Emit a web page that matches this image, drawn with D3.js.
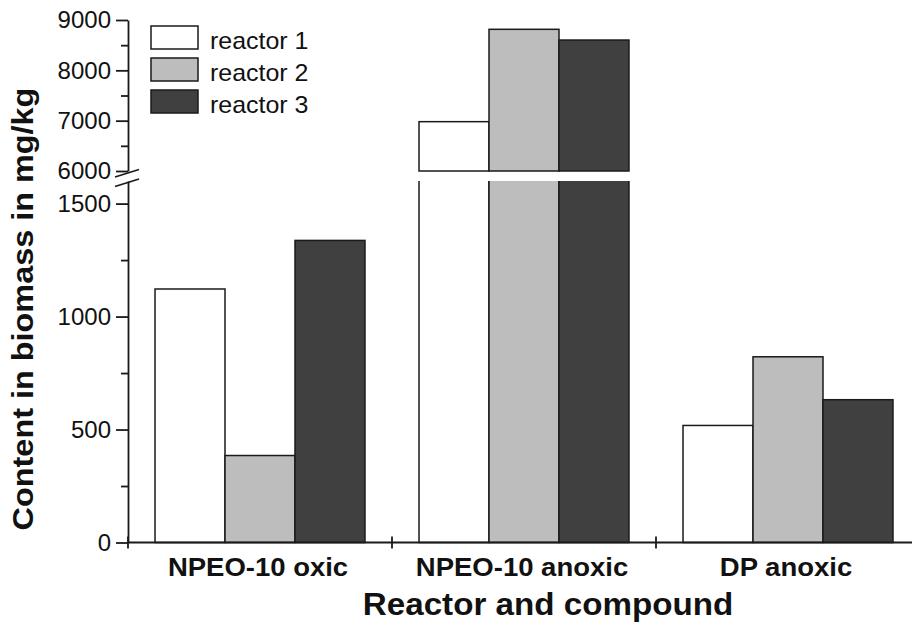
<!DOCTYPE html>
<html>
<head>
<meta charset="utf-8">
<script src="https://cdn.jsdelivr.net/npm/d3@7/dist/d3.min.js"></script>
<style>
  html, body { margin: 0; padding: 0; background: #fff; }
  svg { display: block; }
  text { font-family: "Liberation Sans", Arial, Helvetica, sans-serif; fill: #111; }
</style>
</head>
<body>
<svg id="chart" width="912" height="624"></svg>
<script>
// Compounds measured, and the three reactors
const categories = ["NPEO-10 oxic", "NPEO-10 anoxic", "DP anoxic"];
const reactors = ["reactor 1", "reactor 2", "reactor 3"];

// Content in biomass (mg/kg), one array per reactor, in category order
const reactor1 = [1122, 6980, 518];
const reactor2 = [385, 8815, 822];
const reactor3 = [1337, 8602, 632];

// Broken y axis: lower and upper segments
const lowerTicks = [0, 500, 1000, 1500];
const lowerMinor = [250, 750, 1250];
const upperTicks = [6000, 7000, 8000, 9000];
const upperMinor = [6500, 7500, 8500];
const lowerDomain = [0, 1600];
const upperDomain = [6000, 9000];

const fills = ["#ffffff", "#bdbdbd", "#404040"];
const ink = "#1a1a1a";

const svg = d3.select("#chart");

const x0 = d3.scaleBand().domain(categories).range([128, 920]).padding(0);
const x1 = d3.scaleBand().domain(reactors).range([0, x0.bandwidth()])
  .paddingInner(0).paddingOuter(0.386);
const yLow = d3.scaleLinear().domain(lowerDomain).range([542.5, 181]);
const yHigh = d3.scaleLinear().domain(upperDomain).range([171, 20]);
const colour = d3.scaleOrdinal().domain(reactors).range(fills);

const rows = [];
[reactor1, reactor2, reactor3].forEach((vals, s) => {
  vals.forEach((v, c) => rows.push({ cat: categories[c], reactor: reactors[s], value: v }));
});

// Bars
const bars = svg.append("g");
rows.forEach(d => {
  const x = x0(d.cat) + x1(d.reactor);
  const w = x1.bandwidth();
  if (d.value <= lowerDomain[1]) {
    bars.append("rect")
      .attr("x", x).attr("y", yLow(d.value))
      .attr("width", w).attr("height", yLow(0) - yLow(d.value))
      .attr("fill", colour(d.reactor)).attr("stroke", ink).attr("stroke-width", 1.5);
  } else {
    // lower part, open at the break
    const top = yLow(lowerDomain[1]), base = yLow(0);
    bars.append("path")
      .attr("d", `M${x},${top}L${x},${base}L${x + w},${base}L${x + w},${top}`)
      .attr("fill", colour(d.reactor)).attr("stroke", ink).attr("stroke-width", 1.5);
    // upper part
    bars.append("rect")
      .attr("x", x).attr("y", yHigh(d.value))
      .attr("width", w).attr("height", yHigh(upperDomain[0]) - yHigh(d.value))
      .attr("fill", colour(d.reactor)).attr("stroke", ink).attr("stroke-width", 1.5);
  }
});

// Y axes (two segments)
function styleAxis(g) {
  g.selectAll("path, line").attr("stroke", ink).attr("stroke-width", 1.8);
  g.selectAll("text").attr("font-size", 24).attr("fill", "#111")
    .style("font-family", '"Liberation Sans", Arial, Helvetica, sans-serif');
}
const axisX = x0.range()[0];
const plain = d3.format("d");

const gLow = svg.append("g").attr("transform", `translate(${axisX},0)`)
  .call(d3.axisLeft(yLow).tickValues(lowerTicks).tickFormat(plain)
    .tickSize(12).tickSizeOuter(0).tickPadding(5));
styleAxis(gLow);
svg.append("g").attr("transform", `translate(${axisX},0)`)
  .call(d3.axisLeft(yLow).tickValues(lowerMinor).tickSize(7).tickFormat(""))
  .call(g => g.select(".domain").remove())
  .call(styleAxis);

const gHigh = svg.append("g").attr("transform", `translate(${axisX},0)`)
  .call(d3.axisLeft(yHigh).tickValues(upperTicks).tickFormat(plain)
    .tickSize(12).tickSizeOuter(0).tickPadding(5));
styleAxis(gHigh);
svg.append("g").attr("transform", `translate(${axisX},0)`)
  .call(d3.axisLeft(yHigh).tickValues(upperMinor).tickSize(7).tickFormat(""))
  .call(g => g.select(".domain").remove())
  .call(styleAxis);

// Break marks on the y axis
const slash = (cy) => svg.append("line")
  .attr("x1", axisX - 13).attr("y1", cy + 4)
  .attr("x2", axisX + 11).attr("y2", cy - 3.5)
  .attr("stroke", ink).attr("stroke-width", 1.8);
slash(yHigh(upperDomain[0]) + 2);
slash(yLow(lowerDomain[1]) + 1.5);

// X axis line with ticks between categories
const base = yLow(0);
svg.append("line").attr("x1", axisX).attr("x2", 912).attr("y1", base).attr("y2", base)
  .attr("stroke", ink).attr("stroke-width", 1.8);
svg.append("g").selectAll("line").data(categories).join("line")
  .attr("x1", d => x0(d)).attr("x2", d => x0(d))
  .attr("y1", base - 6).attr("y2", base + 6)
  .attr("stroke", ink).attr("stroke-width", 1.8);

// Horizontally stretched text helper
function stretched(g, x, y, txt, size, sx, anchor, rotate) {
  return g.append("text")
    .attr("transform", `translate(${x},${y})${rotate ? ` rotate(${rotate})` : ""} scale(${sx},1)`)
    .attr("text-anchor", anchor).attr("font-size", size).text(txt);
}

// Category labels
const labels = svg.append("g").attr("font-weight", "bold");
categories.forEach(c => stretched(labels, x0(c) + x0.bandwidth() / 2 - 2, 576, c, 25, 1.1, "middle"));

// Axis titles
stretched(labels, 548, 615, "Reactor and compound", 31, 1.07, "middle");
stretched(labels, 33, 309, "Content in biomass in mg/kg", 30, 1.08, "middle", -90);

// Legend
const legend = svg.append("g");
reactors.forEach((r, i) => {
  const top = 26 + i * 32;
  legend.append("rect").attr("x", 151).attr("y", top).attr("width", 47).attr("height", 23)
    .attr("fill", colour(r)).attr("stroke", ink).attr("stroke-width", 1.5);
  stretched(legend, 210, top + 23, r, 24, 1.04, "start");
});
</script>
</body>
</html>
